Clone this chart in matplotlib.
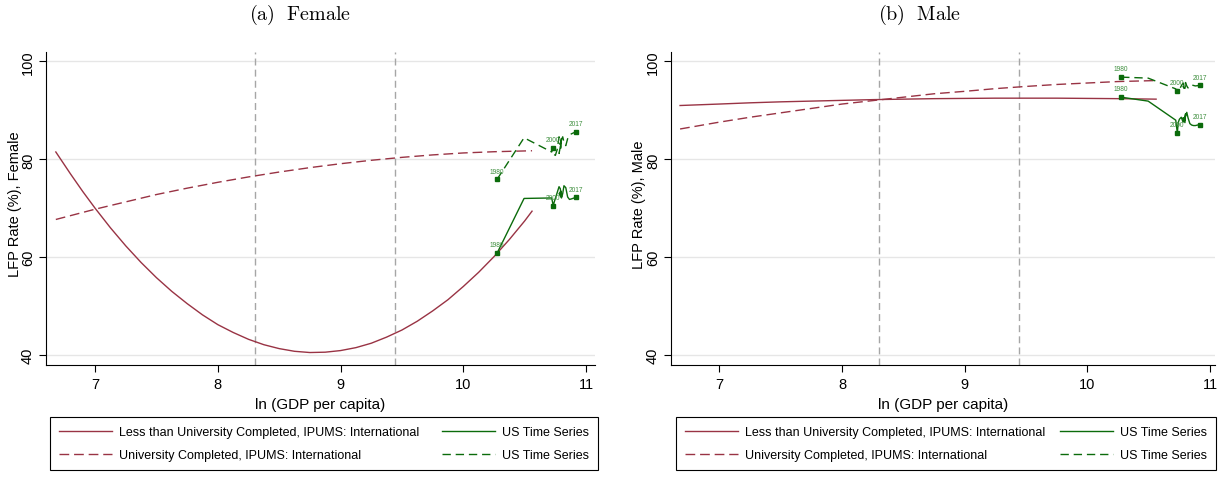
import matplotlib
matplotlib.use('Agg')
import matplotlib.pyplot as plt

plt.rcParams['font.family'] = ['Liberation Sans', 'DejaVu Sans']
plt.rcParams['mathtext.fontset'] = 'cm'

# ---------------- data ----------------
# fitted curves (IPUMS International)
fit_x_fine = [6.68, 6.8, 6.9, 7.0, 7.125, 7.25, 7.375, 7.5, 7.625, 7.75, 7.875, 8.0,
              8.125, 8.25, 8.375, 8.5, 8.625, 8.75, 8.875, 9.0, 9.125, 9.25, 9.375,
              9.5, 9.625, 9.75, 9.875, 10.0, 10.125, 10.25, 10.375, 10.5, 10.56]
fem_less_univ = [81.5, 77.0, 73.4, 70.0, 66.0, 62.3, 58.9, 55.8, 53.0, 50.5, 48.2, 46.2,
                 44.6, 43.2, 42.1, 41.3, 40.75, 40.5, 40.57, 40.9, 41.5, 42.4, 43.65,
                 45.1, 46.9, 49.0, 51.3, 54.0, 56.9, 60.1, 63.6, 67.4, 69.4]
fit_x = [6.68, 7.0, 7.25, 7.5, 7.75, 8.0, 8.25, 8.5, 8.75, 9.0, 9.25, 9.5, 9.75, 10.0, 10.25, 10.56]
fem_univ = [67.7, 69.8, 71.3, 72.8, 74.1, 75.3, 76.4, 77.4, 78.3, 79.1, 79.8, 80.4, 80.9, 81.3, 81.55, 81.75]
male_less_univ = [91.0, 91.3, 91.55, 91.75, 91.9, 92.05, 92.2, 92.3, 92.4, 92.45, 92.5, 92.5, 92.5, 92.45, 92.4, 92.3]
male_univ = [86.2, 87.6, 88.6, 89.5, 90.4, 91.3, 92.0, 92.7, 93.4, 93.9, 94.45, 94.9, 95.3, 95.6, 95.9, 96.1]

# US time series
us_years = [1980, 1990, 1999, 2000, 2001, 2002, 2003, 2004, 2005, 2006, 2007,
            2008, 2009, 2010, 2011, 2012, 2013, 2014, 2015, 2016, 2017]
us_lngdp = [10.275, 10.495, 10.72, 10.733, 10.74, 10.75, 10.765, 10.78, 10.79, 10.80, 10.795,
            10.78, 10.79, 10.80, 10.81, 10.82, 10.835, 10.85, 10.865, 10.88, 10.915]
us_fem_less = [60.8, 72.0, 72.1, 70.5, 71.2, 72.0, 73.2, 74.4, 74.0, 72.3, 73.5,
               73.0, 72.5, 72.1, 73.0, 74.6, 74.2, 72.3, 71.8, 71.9, 72.2]
us_fem_univ = [75.9, 84.4, 81.5, 82.4, 81.0, 80.8, 82.0, 84.6, 83.0, 84.6, 82.0,
               81.2, 82.5, 84.0, 84.6, 83.5, 82.8, 84.2, 84.8, 85.2, 85.6]
us_male_less = [92.7, 91.9, 88.0, 85.4, 87.5, 88.2, 88.6, 87.6, 88.0, 89.3, 87.5,
                88.5, 87.8, 88.8, 89.6, 88.5, 87.3, 87.0, 86.9, 86.9, 87.1]
us_male_univ = [96.8, 96.6, 94.4, 94.0, 94.6, 94.3, 95.0, 95.6, 94.8, 95.3, 94.5,
                94.9, 94.4, 95.7, 95.0, 94.6, 94.8, 95.2, 95.1, 95.0, 95.1]
label_years = [1980, 2000, 2017]

vlines_x = [8.30, 9.44]
xticks = [7, 8, 9, 10, 11]
yticks = [40, 60, 80, 100]

titles = [r'$\mathrm{(a)\ \ Female}$', r'$\mathrm{(b)\ \ Male}$']
ylabels = ['LFP Rate (%), Female', 'LFP Rate (%), Male']
xlabel = 'ln (GDP per capita)'
leg_labels = ['Less than University Completed, IPUMS: International',
              'University Completed, IPUMS: International',
              'US Time Series', 'US Time Series']

RED = '#993344'
GREEN = '#0b6b0b'
LBLGREEN = '#3f8f3f'

W, H = 1225, 485
fig = plt.figure(figsize=(W / 100, H / 100), dpi=100)

panels = [
    dict(rect=[46 / W, 1 - 366 / H, 549 / W, 313.3 / H], xlim=(6.60, 11.073),
         less_x=fit_x_fine, less=fem_less_univ, univ=fem_univ, usl=us_fem_less, usu=us_fem_univ,
         title_x=300 / W, leg=(50 / W, 548 / W), ylab_x=-0.044),
    dict(rect=[671 / W, 1 - 366 / H, 544 / W, 313.3 / H], xlim=(6.606, 11.04),
         less_x=fit_x, less=male_less_univ, univ=male_univ, usl=us_male_less, usu=us_male_univ,
         title_x=919 / W, leg=(676 / W, 540 / W), ylab_x=-0.046),
]

for i, p in enumerate(panels):
    ax = fig.add_axes(p['rect'])
    ax.set_xlim(*p['xlim'])
    ax.set_ylim(37.95, 102.0)
    for s in ['top', 'right']:
        ax.spines[s].set_visible(False)
    for s in ['left', 'bottom']:
        ax.spines[s].set_linewidth(0.8)
        ax.spines[s].set_color('black')
    ax.set_xticks(xticks)
    ax.set_yticks(yticks)
    ax.tick_params(axis='both', direction='out', length=5, width=0.8, labelsize=10.5)
    ax.tick_params(axis='y', labelrotation=90, pad=3)
    for lab in ax.get_yticklabels():
        lab.set_va('center')
    ax.tick_params(axis='x', pad=4)
    ax.grid(axis='y', color='#e6e6e6', lw=1.0, zorder=0)
    ax.set_axisbelow(True)
    for vx in vlines_x:
        ax.axvline(vx, color='#a6a6a6', lw=1.0, ls=(0, (5, 3)), zorder=1)

    l1, = ax.plot(p['less_x'], p['less'], color=RED, lw=1.0, zorder=3)
    l2, = ax.plot(fit_x, p['univ'], color=RED, lw=1.0, ls=(0, (7, 3.5)), zorder=3)
    l3, = ax.plot(us_lngdp, p['usl'], color=GREEN, lw=1.0, zorder=4)
    l4, = ax.plot(us_lngdp, p['usu'], color=GREEN, lw=1.0, ls=(0, (6, 3.5)), zorder=4)

    for series in (p['usl'], p['usu']):
        for yr in label_years:
            k = us_years.index(yr)
            ax.plot([us_lngdp[k]], [series[k]], marker='s', ms=2.3, color=GREEN, zorder=5)
            ax.annotate(str(yr), (us_lngdp[k], series[k]), xytext=(0, 3.5),
                        textcoords='offset points', ha='center', va='bottom',
                        fontsize=4.8, color=LBLGREEN, zorder=6)

    ax.set_xlabel(xlabel, fontsize=11, labelpad=4)
    ax.set_ylabel(ylabels[i], fontsize=10.5)
    ax.yaxis.set_label_coords(p['ylab_x'], 0.515)

    fig.text(p['title_x'], 1 - 15 / H, titles[i], ha='center', va='center', fontsize=14.5)

    x0, w = p['leg']
    leg = ax.legend([l1, l2, l3, l4], leg_labels, ncol=2, mode='expand',
                    loc='upper left', bbox_to_anchor=(x0, 1 - 418 / H, w, 0.0),
                    bbox_transform=fig.transFigure, fontsize=9, frameon=True,
                    fancybox=False, edgecolor='black', framealpha=1,
                    handlelength=4.2, handletextpad=0.55, labelspacing=0.85,
                    borderpad=0.75, borderaxespad=0.0, columnspacing=1.0)
    leg.get_frame().set_linewidth(0.8)

fig.savefig('out.png', dpi=100)
